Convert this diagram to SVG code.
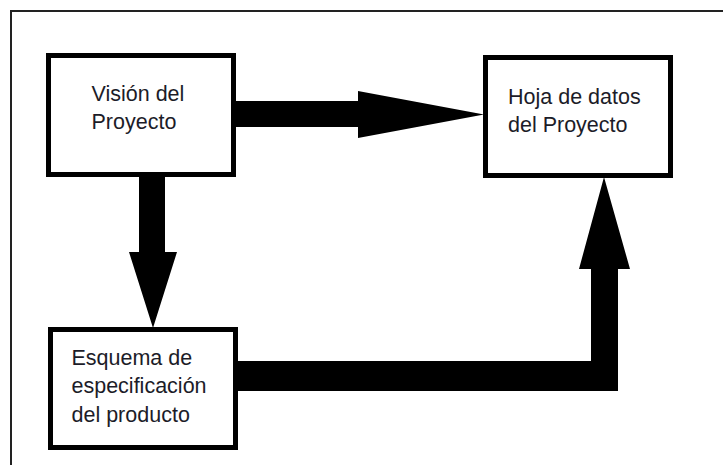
<svg xmlns="http://www.w3.org/2000/svg" width="723" height="465" viewBox="0 0 723 465">
<style>
.box{fill:#fff;stroke:#000;stroke-width:5}
.arr{fill:#000}
.t{font-family:"Liberation Sans",Arial,sans-serif;font-size:21.5px;fill:#1c1c28}
</style>
<rect x="0" y="0" width="723" height="465" fill="#fff"/>
<path d="M11,465 V11 H723" fill="none" stroke="#222" stroke-width="2"/>
<g id="connectors">
<polygon class="arr" points="236,101 358,101 358,91 484,114.5 358,138 358,127 236,127"/>
<polygon class="arr" points="139,176 165,176 165,252 177,252 153,328 129,252 139,252"/>
<polygon class="arr" points="238,361 591,361 591,269 579,269 604,177 630,269 618,269 618,391 238,391"/>
</g>
<g id="vision">
<rect class="box" x="48.5" y="55.5" width="185" height="119"/>
<text class="t" x="91.5" y="101">Visión del</text>
<text class="t" x="91.5" y="129">Proyecto</text>
</g>
<g id="hoja">
<rect class="box" x="485.5" y="57.5" width="185" height="118"/>
<text class="t" x="508" y="104">Hoja de datos</text>
<text class="t" x="508" y="132">del Proyecto</text>
</g>
<g id="esquema">
<rect class="box" x="50.5" y="329.5" width="185" height="118"/>
<text class="t" x="71.5" y="365">Esquema de</text>
<text class="t" x="71.5" y="393">especificación</text>
<text class="t" x="71.5" y="422">del producto</text>
</g>
</svg>
